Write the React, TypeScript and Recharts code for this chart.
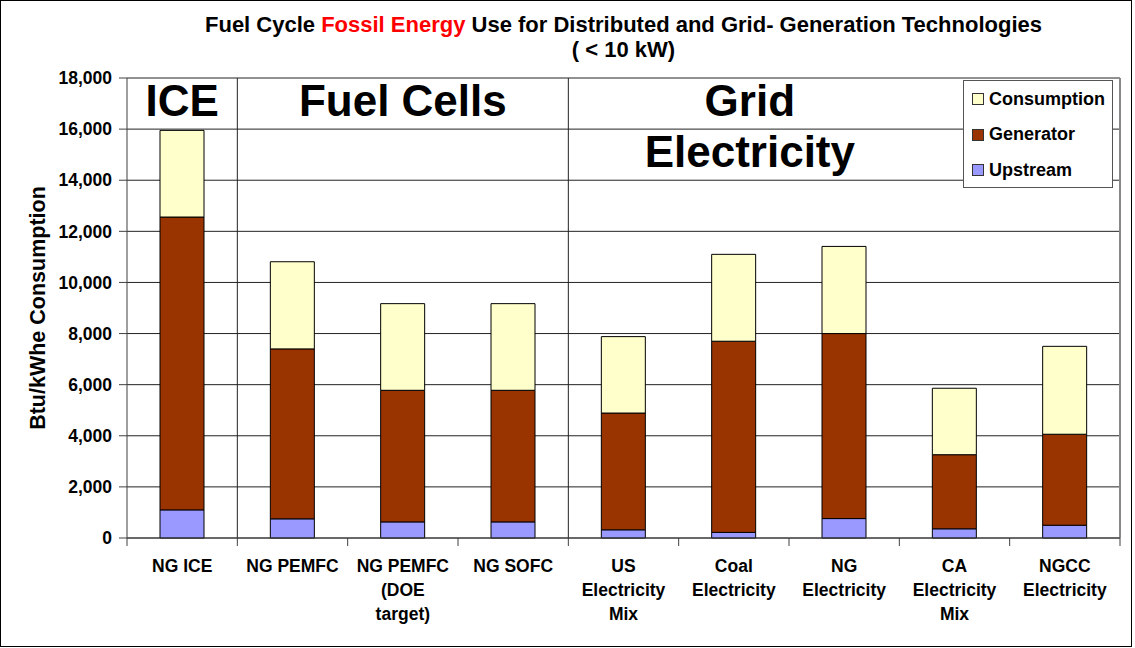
import React from "react";
import {
  BarChart,
  Bar,
  XAxis,
  YAxis,
  CartesianGrid,
  ReferenceLine,
  ReferenceArea,
} from "recharts";

const FONT = '"Liberation Sans", Arial, Helvetica, sans-serif';

const categories = [
  "NG ICE",
  "NG PEMFC",
  "NG PEMFC\n(DOE\ntarget)",
  "NG SOFC",
  "US\nElectricity\nMix",
  "Coal\nElectricity",
  "NG\nElectricity",
  "CA\nElectricity\nMix",
  "NGCC\nElectricity",
];
const upstream = [1100, 750, 630, 630, 320, 220, 760, 360, 500];
const generator = [11460, 6650, 5150, 5150, 4570, 7480, 7240, 2900, 3560];
const consumption = [3390, 3410, 3390, 3390, 2990, 3400, 3410, 2600, 3440];

const yTicks = [0, 2000, 4000, 6000, 8000, 10000, 12000, 14000, 16000, 18000];
const separatorCats = [1, 4];
const groups = [
  { lines: ["ICE"], from: 0, to: 0, dx: 0 },
  { lines: ["Fuel Cells"], from: 1, to: 3, dx: 0 },
  { lines: ["Grid", "Electricity"], from: 4, to: 6, dx: 16 },
];

const series = [
  { key: "upstream", name: "Upstream", color: "#9999FF" },
  { key: "generator", name: "Generator", color: "#993300" },
  { key: "consumption", name: "Consumption", color: "#FFFFCC" },
];
const legendOrder = ["consumption", "generator", "upstream"];

const data = categories.map((c, i) => ({
  name: c,
  upstream: upstream[i],
  generator: generator[i],
  consumption: consumption[i],
}));

const CategoryTick = (props: any) => {
  const { x, y, payload, index } = props;
  const half = payload && typeof payload.offset === "number" ? payload.offset : 0;
  const lines = String(payload.value).split("\n");
  const isLast = index === categories.length - 1;
  return (
    <g>
      <line x1={x - half} x2={x - half} y1={y} y2={y + 8} stroke="#404040" />
      {isLast ? (
        <line x1={x + half} x2={x + half} y1={y} y2={y + 8} stroke="#404040" />
      ) : null}
      <text
        x={x}
        y={y}
        textAnchor="middle"
        fontFamily={FONT}
        fontSize={17.5}
        fontWeight="bold"
        fill="#000"
      >
        {lines.map((l, i) => (
          <tspan key={i} x={x} dy={i === 0 ? 34 : 24}>
            {l}
          </tspan>
        ))}
      </text>
    </g>
  );
};

const GroupLabel = (props: any) => {
  const vb = props.viewBox || {};
  const cx = vb.x + vb.width / 2 + (props.dx || 0);
  const lines: string[] = props.lines;
  return (
    <text
      textAnchor="middle"
      fontFamily={FONT}
      fontSize={44}
      fontWeight="bold"
      fill="#000"
    >
      {lines.map((l, i) => (
        <tspan key={i} x={cx} y={vb.y + 38 + i * 51}>
          {l}
        </tspan>
      ))}
    </text>
  );
};

const YLabel = (props: any) => {
  const vb = props.viewBox || {};
  const x = vb.x + 45;
  const cy = vb.y + vb.height / 2;
  return (
    <text
      x={x}
      y={cy}
      transform={`rotate(-90 ${x} ${cy})`}
      textAnchor="middle"
      fontFamily={FONT}
      fontSize={21.5}
      fontWeight="bold"
      fill="#000"
    >
      Btu/kWhe Consumption
    </text>
  );
};

export default function App() {
  return (
    <div
      style={{
        position: "absolute",
        left: 0,
        top: 0,
        width: 1135,
        height: 648,
        background: "#fff",
        fontFamily: FONT,
      }}
    >
      <div
        style={{
          position: "absolute",
          left: 0,
          top: 0,
          width: 1132,
          height: 647,
          border: "1px solid #000",
          boxSizing: "border-box",
        }}
      />
      <div
        style={{
          position: "absolute",
          left: 127,
          top: 12,
          width: 993,
          textAlign: "center",
          fontSize: 22,
          fontWeight: "bold",
          lineHeight: "25px",
          color: "#000",
        }}
      >
        <div>
          Fuel Cycle <span style={{ color: "#FF0000" }}>Fossil Energy</span> Use
          for Distributed and Grid- Generation Technologies
        </div>
        <div>( &lt; 10 kW)</div>
      </div>
      <BarChart
        width={1135}
        height={648}
        data={data}
        margin={{ top: 78, right: 15, bottom: 0, left: 0 }}
        style={{ position: "absolute", left: 0, top: 0 }}
      >
        <CartesianGrid
          horizontal={true}
          vertical={false}
          stroke="#222"
          strokeWidth={1}
        />
        <XAxis
          dataKey="name"
          interval={0}
          axisLine={{ stroke: "#404040" }}
          tickLine={false}
          tickSize={0}
          tickMargin={0}
          height={110}
          tick={<CategoryTick />}
        />
        <YAxis
          domain={[0, 18000]}
          ticks={yTicks}
          width={127}
          interval={0}
          tickSize={8}
          tickMargin={7}
          stroke="#404040"
          tickFormatter={(v: number) => v.toLocaleString("en-US")}
          tick={{
            fontFamily: FONT,
            fontSize: 17.5,
            fontWeight: "bold",
            fill: "#000",
          }}
          label={{ content: (p: any) => <YLabel {...p} /> }}
        />
        {groups.map((g, i) => (
          <ReferenceArea
            key={"g" + i}
            x1={categories[g.from]}
            x2={categories[g.to]}
            fill="none"
            fillOpacity={0}
            stroke="none"
            ifOverflow="visible"
            label={(p: any) => (
              <GroupLabel {...p} lines={g.lines} dx={g.dx} />
            )}
          />
        ))}
        {separatorCats.map((s) => (
          <ReferenceLine
            key={"s" + s}
            x={categories[s]}
            position="start"
            stroke="#222"
            strokeWidth={1}
          />
        ))}
        <ReferenceLine
          x={categories[categories.length - 1]}
          position="end"
          stroke="#888"
          strokeWidth={2}
        />
        {series.map((s) => (
          <Bar
            key={s.key}
            dataKey={s.key}
            name={s.name}
            stackId="a"
            fill={s.color}
            stroke="#000"
            strokeWidth={1}
            barSize={44}
            isAnimationActive={false}
          />
        ))}
      </BarChart>
      <div
        style={{
          position: "absolute",
          left: 963,
          top: 80,
          width: 150,
          height: 108,
          border: "1px solid #555",
          boxSizing: "border-box",
          background: "#fff",
        }}
      >
        {legendOrder.map((k, i) => {
          const s = series.find((x) => x.key === k)!;
          return (
            <div
              key={k}
              style={{
                position: "absolute",
                left: 8,
                top: 8 + i * 35.5,
                height: 20,
                display: "flex",
                alignItems: "center",
                fontSize: 18,
                fontWeight: "bold",
                color: "#000",
                whiteSpace: "nowrap",
              }}
            >
              <span
                style={{
                  display: "inline-block",
                  width: 10,
                  height: 10,
                  background: s.color,
                  border: "1px solid #333",
                  marginRight: 5,
                }}
              />
              <span>{s.name}</span>
            </div>
          );
        })}
      </div>
    </div>
  );
}
